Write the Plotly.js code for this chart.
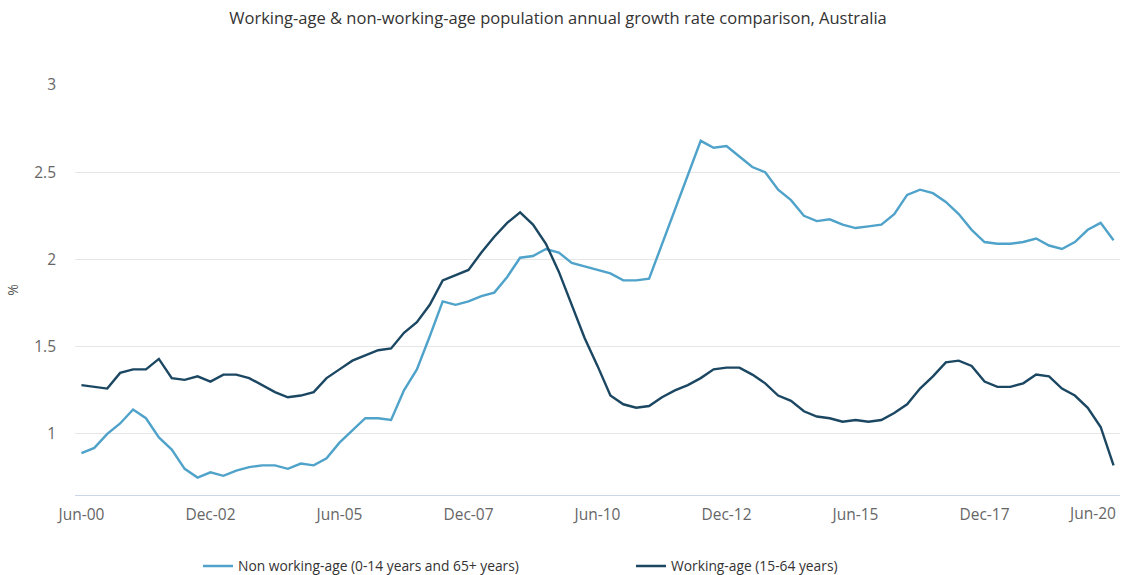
<!DOCTYPE html>
<html>
<head>
<meta charset="utf-8">
<script src="https://cdn.plot.ly/plotly-3.0.1.min.js"></script>
<style>
  html, body { margin: 0; padding: 0; background: #ffffff; }
  #chart { width: 1125px; height: 575px; }
</style>
</head>
<body>
<div id="chart"></div>
<script>
// Quarter labels, June 2000 to June 2020
const quarters = [
  'Jun-00','Sep-00','Dec-00','Mar-01','Jun-01','Sep-01','Dec-01','Mar-02','Jun-02','Sep-02',
  'Dec-02','Mar-03','Jun-03','Sep-03','Dec-03','Mar-04','Jun-04','Sep-04','Dec-04','Mar-05',
  'Jun-05','Sep-05','Dec-05','Mar-06','Jun-06','Sep-06','Dec-06','Mar-07','Jun-07','Sep-07',
  'Dec-07','Mar-08','Jun-08','Sep-08','Dec-08','Mar-09','Jun-09','Sep-09','Dec-09','Mar-10',
  'Jun-10','Sep-10','Dec-10','Mar-11','Jun-11','Sep-11','Dec-11','Mar-12','Jun-12','Sep-12',
  'Dec-12','Mar-13','Jun-13','Sep-13','Dec-13','Mar-14','Jun-14','Sep-14','Dec-14','Mar-15',
  'Jun-15','Sep-15','Dec-15','Mar-16','Jun-16','Sep-16','Dec-16','Mar-17','Jun-17','Sep-17',
  'Dec-17','Mar-18','Jun-18','Sep-18','Dec-18','Mar-19','Jun-19','Sep-19','Dec-19','Mar-20',
  'Jun-20'
];

// Annual growth rate (%), population aged 0-14 and 65+
const nonWorkingAge = [
  0.89, 0.92, 1.00, 1.06, 1.14, 1.09, 0.98, 0.91, 0.80, 0.75,
  0.78, 0.76, 0.79, 0.81, 0.82, 0.82, 0.80, 0.83, 0.82, 0.86,
  0.95, 1.02, 1.09, 1.09, 1.08, 1.25, 1.37, 1.56, 1.76, 1.74,
  1.76, 1.79, 1.81, 1.90, 2.01, 2.02, 2.06, 2.04, 1.98, 1.96,
  1.94, 1.92, 1.88, 1.88, 1.89, 2.09, 2.29, 2.48, 2.68, 2.64,
  2.65, 2.59, 2.53, 2.50, 2.40, 2.34, 2.25, 2.22, 2.23, 2.20,
  2.18, 2.19, 2.20, 2.26, 2.37, 2.40, 2.38, 2.33, 2.26, 2.17,
  2.10, 2.09, 2.09, 2.10, 2.12, 2.08, 2.06, 2.10, 2.17, 2.21,
  2.11
];

// Annual growth rate (%), population aged 15-64
const workingAge = [
  1.28, 1.27, 1.26, 1.35, 1.37, 1.37, 1.43, 1.32, 1.31, 1.33,
  1.30, 1.34, 1.34, 1.32, 1.28, 1.24, 1.21, 1.22, 1.24, 1.32,
  1.37, 1.42, 1.45, 1.48, 1.49, 1.58, 1.64, 1.74, 1.88, 1.91,
  1.94, 2.04, 2.13, 2.21, 2.27, 2.20, 2.09, 1.93, 1.74, 1.55,
  1.39, 1.22, 1.17, 1.15, 1.16, 1.21, 1.25, 1.28, 1.32, 1.37,
  1.38, 1.38, 1.34, 1.29, 1.22, 1.19, 1.13, 1.10, 1.09, 1.07,
  1.08, 1.07, 1.08, 1.12, 1.17, 1.26, 1.33, 1.41, 1.42, 1.39,
  1.30, 1.27, 1.27, 1.29, 1.34, 1.33, 1.26, 1.22, 1.15, 1.04,
  0.82
];

// Labelled quarters on the x axis (the final one is placed separately so it stays inside the page)
const xTickVals = ['Jun-00','Dec-02','Jun-05','Dec-07','Jun-10','Dec-12','Jun-15','Dec-17'];
const lastTick = 'Jun-20';
const yTickVals = [1, 1.5, 2, 2.5, 3];

const FONT = '"Open Sans", "Noto Sans", sans-serif';
const LIGHT = '#4fa2c9';
const DARK = '#1b4762';

const traces = [
  {
    type: 'scatter', mode: 'lines',
    name: 'Non working-age (0-14 years and 65+ years)',
    x: quarters, y: nonWorkingAge,
    line: { color: LIGHT, width: 2.4 },
    hoverinfo: 'skip'
  },
  {
    type: 'scatter', mode: 'lines',
    name: 'Working-age (15-64 years)',
    x: quarters, y: workingAge,
    line: { color: DARK, width: 2.4 },
    hoverinfo: 'skip'
  }
];

const layout = {
  width: 1125, height: 575,
  margin: { l: 75, r: 5, t: 85, b: 80 },
  paper_bgcolor: '#ffffff',
  plot_bgcolor: '#ffffff',
  font: { family: FONT, color: '#333333' },
  title: {
    text: 'Working-age & non-working-age population annual growth rate comparison, Australia',
    font: { family: FONT, size: 16.5, color: '#333333' },
    x: 0.496, xref: 'container', xanchor: 'center',
    y: 1 - 18 / 575, yref: 'container', yanchor: 'middle'
  },
  xaxis: {
    type: 'category',
    categoryorder: 'array', categoryarray: quarters,
    range: [-0.5, 80.5],
    tickmode: 'array', tickvals: xTickVals, ticktext: xTickVals,
    showgrid: false, zeroline: false,
    showline: true, linecolor: '#ccd6eb', linewidth: 1,
    ticks: '',
    ticklabelstandoff: 5,
    tickfont: { family: FONT, size: 15.5, color: '#666666' }
  },
  yaxis: {
    range: [0.65, 3.0],
    tickmode: 'array', tickvals: yTickVals, ticktext: yTickVals.map(String),
    showgrid: true, gridcolor: '#e6e6e6', gridwidth: 1,
    zeroline: false, showline: false, ticks: '',
    ticklabelstandoff: 18,
    tickfont: { family: FONT, size: 15.5, color: '#666666' },
    title: { text: '%', font: { family: FONT, size: 14, color: '#555555' }, standoff: 12 }
  },
  showlegend: true,
  legend: {
    orientation: 'h',
    xref: 'container', x: 198 / 1125, xanchor: 'left',
    yref: 'container', y: 1 - 566 / 575, yanchor: 'middle',
    entrywidth: 388, entrywidthmode: 'pixels',
    font: { family: FONT, size: 13.8, color: '#333333' },
    itemclick: false, itemdoubleclick: false
  },
  annotations: [
    {
      text: lastTick,
      x: lastTick, xref: 'x',
      y: 0, yref: 'paper',
      xanchor: 'right', yanchor: 'top',
      xshift: 4, yshift: -5,
      showarrow: false,
      font: { family: FONT, size: 15.5, color: '#666666' }
    }
  ]
};

Plotly.newPlot('chart', traces, layout, { displayModeBar: false, staticPlot: true });
</script>
</body>
</html>
